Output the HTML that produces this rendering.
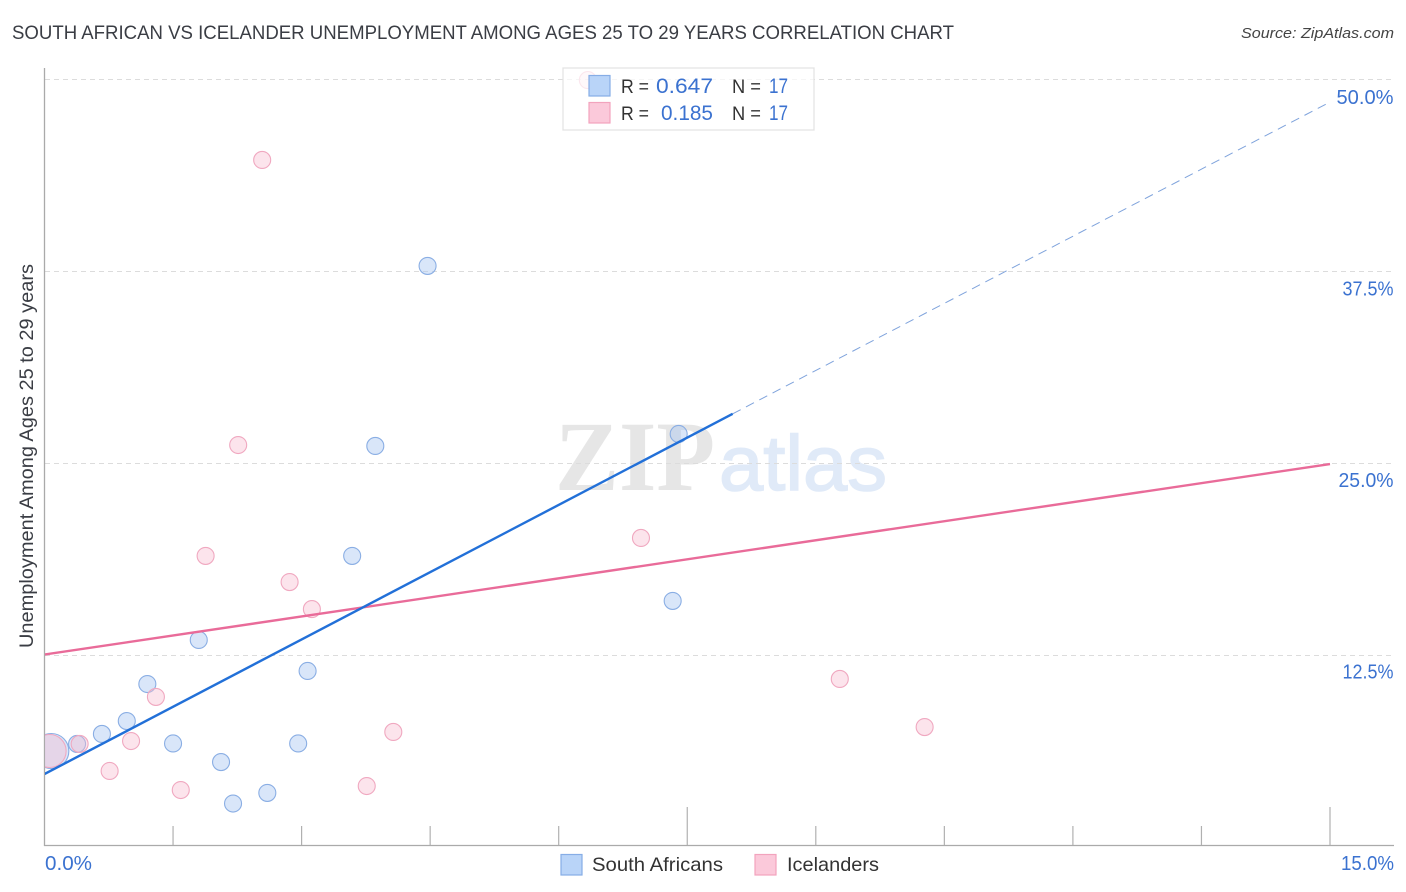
<!DOCTYPE html>
<html>
<head>
<meta charset="utf-8">
<title>South African vs Icelander Unemployment</title>
<style>
html,body{margin:0;padding:0;background:#fff;}
svg{display:block;font-family:"Liberation Sans",sans-serif;}
</style>
</head>
<body>
<svg id="chart" width="1406" height="892" viewBox="0 0 1406 892" xmlns="http://www.w3.org/2000/svg">
<defs><clipPath id="plot-clip"><rect x="45" y="60" width="1349" height="786"/></clipPath></defs>
<rect width="1406" height="892" fill="#fff"/>
<text x="12" y="39" font-size="19" fill="#3a3d44" textLength="942" lengthAdjust="spacingAndGlyphs">SOUTH AFRICAN VS ICELANDER UNEMPLOYMENT AMONG AGES 25 TO 29 YEARS CORRELATION CHART</text>
<text x="1241" y="38" font-size="15" font-style="italic" fill="#444" textLength="153" lengthAdjust="spacingAndGlyphs">Source: ZipAtlas.com</text>
<text x="555" y="490" font-family="'Liberation Serif',serif" font-weight="bold" font-size="100" fill="#e6e6e6" textLength="160" lengthAdjust="spacingAndGlyphs">ZIP</text>
<text x="719" y="490" font-size="78" fill="#e0eaf8" stroke="#e0eaf8" stroke-width="1.5" textLength="168" lengthAdjust="spacingAndGlyphs">atlas</text>
<g id="grid"></g>
<g id="axes"></g>
<g id="points" clip-path="url(#plot-clip)"></g>
<g id="lines" clip-path="url(#plot-clip)"></g>
<text transform="translate(33,456) rotate(-90)" text-anchor="middle" font-size="19" fill="#3a3d44" textLength="384" lengthAdjust="spacingAndGlyphs">Unemployment Among Ages 25 to 29 years</text>

<g>
<rect x="563" y="68" width="251" height="62" fill="#fff" fill-opacity="0.72" stroke="#e2e2e2" stroke-width="1.2"/>
<rect x="589" y="75.500" width="21" height="20.500" fill="#b9d4f8" stroke="#86ade6" stroke-width="1.200"/>
<rect x="589" y="102.500" width="21" height="20.500" fill="#fbc9da" stroke="#f2a3bd" stroke-width="1.200"/>
<text x="621" y="93" font-size="19" fill="#333" textLength="28" lengthAdjust="spacingAndGlyphs">R =</text>
<text x="656" y="93" font-size="21.500" fill="#3b72d0" textLength="57" lengthAdjust="spacingAndGlyphs">0.647</text>
<text x="732" y="93" font-size="19" fill="#333" textLength="29" lengthAdjust="spacingAndGlyphs">N =</text>
<text x="769" y="93" font-size="21.500" fill="#3b72d0" textLength="19" lengthAdjust="spacingAndGlyphs">17</text>
<text x="621" y="120" font-size="19" fill="#333" textLength="28" lengthAdjust="spacingAndGlyphs">R =</text>
<text x="661" y="120" font-size="21.500" fill="#3b72d0" textLength="52" lengthAdjust="spacingAndGlyphs">0.185</text>
<text x="732" y="120" font-size="19" fill="#333" textLength="29" lengthAdjust="spacingAndGlyphs">N =</text>
<text x="769" y="120" font-size="21.500" fill="#3b72d0" textLength="19" lengthAdjust="spacingAndGlyphs">17</text>
</g>

<g>
<rect x="561" y="854.500" width="21" height="20.500" fill="#b9d4f8" stroke="#86ade6" stroke-width="1.200"/>
<text x="592" y="871" font-size="19.500" fill="#333" textLength="131" lengthAdjust="spacingAndGlyphs">South Africans</text>
<rect x="755" y="854.500" width="21" height="20.500" fill="#fbc9da" stroke="#f2a3bd" stroke-width="1.200"/>
<text x="787" y="871" font-size="19.500" fill="#333" textLength="92" lengthAdjust="spacingAndGlyphs">Icelanders</text>
</g>
</svg>
<script>
const yTicks = [12.5, 25, 37.5, 50];
const yTickLabels = ["12.5%", "25.0%", "37.5%", "50.0%"];
const xTicks = [1.5, 3, 4.5, 6, 7.5, 9, 10.5, 12, 13.5, 15];
const xMajorTicks = [7.5, 15];
const xEndLabels = ["0.0%", "15.0%"];

const southAfricanX = [0.08, 0.38, 0.67, 0.96, 1.20, 1.50, 1.80, 2.06, 2.20, 2.60, 2.96, 3.07, 3.59, 3.86, 4.47, 7.33, 7.40];
const southAfricanY = [6.25, 6.71, 7.36, 8.20, 10.61, 6.74, 13.48, 5.53, 2.83, 3.52, 6.74, 11.46, 18.95, 26.11, 37.83, 16.02, 26.89];
const southAfricanR = [18, 9, 9, 9, 9, 9, 9, 9, 9, 9, 9, 9, 9, 9, 9, 9, 9];

const icelanderX = [0.06, 0.41, 0.76, 1.01, 1.30, 1.59, 1.88, 2.26, 2.54, 2.86, 3.12, 3.76, 4.07, 6.34, 6.96, 9.28, 10.27];
const icelanderY = [6.25, 6.71, 4.95, 6.90, 9.77, 3.71, 18.95, 26.17, 44.73, 17.25, 15.49, 3.97, 7.49, 49.93, 20.12, 10.94, 7.81];
const icelanderR = [17, 9, 9, 9, 9, 9, 9, 9, 9, 9, 9, 9, 9, 9, 9, 9, 9];

const blueTrendX = [0, 8.03];
const blueTrendY = [4.75, 28.2];
const blueDashX = [8.03, 15];
const blueDashY = [28.2, 48.5];
const pinkTrendX = [0, 15];
const pinkTrendY = [12.53, 24.93];

const NS = "http://www.w3.org/2000/svg";
function xScale(v) { return 44.5 + v * 85.7; }
function yScale(v) { return 847 - v * 15.36; }
function labelWidth(label) {
  if (label === "50.0%") return 57;
  if (label === "25.0%") return 55;
  return 51;
}
function make(parent, tag, attrs, text) {
  const el = document.createElementNS(NS, tag);
  for (const k in attrs) el.setAttribute(k, attrs[k]);
  if (text !== undefined) el.textContent = text;
  parent.appendChild(el);
  return el;
}
const grid = document.getElementById("grid");
const axes = document.getElementById("axes");
const lines = document.getElementById("lines");
const points = document.getElementById("points");

yTicks.forEach(function (v, i) {
  const g = make(grid, "line", {x1: 45, x2: 1393, y1: yScale(v) + 0.5, y2: yScale(v) + 0.5, stroke: "#dcdcdc", "stroke-width": 1, "stroke-dasharray": "5 4"});
  
  
  const t = make(axes, "text", {x: 1393.5, y: yScale(v) + 23 + (v / 50) * 2, "text-anchor": "end", "font-size": 20, fill: "#3b72d0", textLength: labelWidth(yTickLabels[i]), lengthAdjust: "spacingAndGlyphs"}, yTickLabels[i]);
  
  
});
const yAxis = make(axes, "line", {x1: 44.5, x2: 44.5, y1: 68, y2: 846, stroke: "#aaaaaa", "stroke-width": 1.3});


const xAxis = make(axes, "line", {x1: 44, x2: 1394, y1: 845.5, y2: 845.5, stroke: "#aaaaaa", "stroke-width": 1.3});


xTicks.forEach(function (v) {
  const top = xMajorTicks.indexOf(v) >= 0 ? 807 : 826;
  const tick = make(axes, "line", {x1: xScale(v), x2: xScale(v), y1: top, y2: 845, stroke: "#b0b0b0", "stroke-width": 1.2});
  
  
});
const xLabelStart = make(axes, "text", {x: 45, y: 870, "font-size": 20, fill: "#3b72d0", textLength: 47, lengthAdjust: "spacingAndGlyphs"}, xEndLabels[0]);


const xLabelEnd = make(axes, "text", {x: 1394, y: 870, "text-anchor": "end", "font-size": 20, fill: "#3b72d0", textLength: 53, lengthAdjust: "spacingAndGlyphs"}, xEndLabels[1]);



southAfricanX.forEach(function (v, i) {
  const c = make(points, "circle", {cx: xScale(v), cy: yScale(southAfricanY[i]), r: southAfricanR[i] - 0.5, fill: "#aac8f2", "fill-opacity": 0.45, stroke: "#8aaee4", "stroke-width": 1.1});
  
  
});
icelanderX.forEach(function (v, i) {
  const c = make(points, "circle", {cx: xScale(v), cy: yScale(icelanderY[i]), r: icelanderR[i] - 0.5, fill: "#f8bcd0", "fill-opacity": 0.4, stroke: "#f0a8c0", "stroke-width": 1.1});
  
  
});

const blueDash = make(lines, "line", {x1: xScale(blueDashX[0]), y1: yScale(blueDashY[0]), x2: xScale(blueDashX[1]), y2: yScale(blueDashY[1]), stroke: "#7fa3dc", "stroke-width": 1, "stroke-dasharray": "9 6"});


const pinkLine = make(lines, "line", {x1: xScale(pinkTrendX[0]), y1: yScale(pinkTrendY[0]), x2: xScale(pinkTrendX[1]), y2: yScale(pinkTrendY[1]), stroke: "#e96b99", "stroke-width": 2.4});


const blueLine = make(lines, "line", {x1: xScale(blueTrendX[0]), y1: yScale(blueTrendY[0]), x2: xScale(blueTrendX[1]), y2: yScale(blueTrendY[1]), stroke: "#2270d8", "stroke-width": 2.4});


</script>
</body>
</html>
